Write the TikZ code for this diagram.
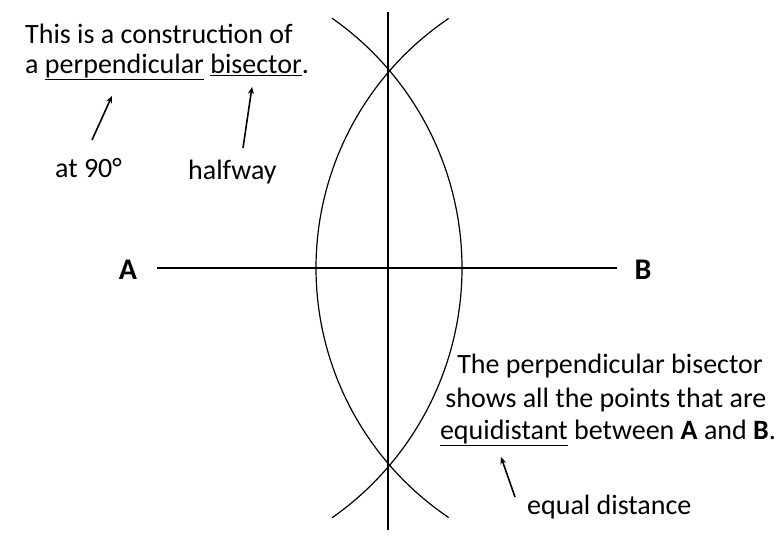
\documentclass[tikz,border=0pt]{standalone}
\usepackage{fontspec}
\setmainfont{Carlito}
\usetikzlibrary{arrows.meta}
\begin{document}
\begin{tikzpicture}[x=1pt,y=1pt,
  txt/.style={font=\fontsize{28}{32}\selectfont,inner sep=0pt},
  ln/.style={line width=1.6pt},
  arr/.style={line width=1.6pt,-{Stealth[length=7pt,width=6pt]}}]
\useasboundingbox (0,0) rectangle (780,540);
% y-up coordinates: y = 540 - pixel_y
\node[txt,anchor=west] (t1) at (25,506) {This is a construction of};
\node[txt,anchor=west] (t2) at (25,473) {a \underline{perpendicular} \underline{bisector}.};
\node[txt,anchor=west] (n90) at (55,372) {at 90°};
\node[txt,anchor=west] (nh) at (188,368) {halfway};
\coordinate (u1) at (112,444);
\coordinate (u2) at (252,453);
\draw[arr] (92,400) -- (u1);
\draw[arr] (243,392) -- (u2);
\coordinate (A) at (157,272);
\coordinate (B) at (617,272);
\draw[ln] (A) -- (B);
\node[txt] (la) at (128,270) {\fontsize{30}{34}\selectfont\bfseries A};
\node[txt] (lb) at (643,270) {\fontsize{30}{34}\selectfont\bfseries B};
\draw[ln] (388,528) -- (388,10);
\draw[line width=1.2pt] (B) ++(124:301) arc[start angle=124,end angle=236,radius=301];
\draw[line width=1.2pt] (A) ++(-55:305) arc[start angle=-55,end angle=55,radius=305];
\node[txt] (b1) at (610,174) {The perpendicular bisector};
\node[txt] (b2) at (606,140) {shows all the points that are};
\node[txt] (b3) at (608,107) {\underline{equidistant} between \textbf{A} and \textbf{B}.};
\coordinate (u3) at (501,83);
\draw[arr] (515,43) -- (u3);
\node[txt,anchor=west] (eq) at (527,33) {equal distance};
\end{tikzpicture}
\end{document}
